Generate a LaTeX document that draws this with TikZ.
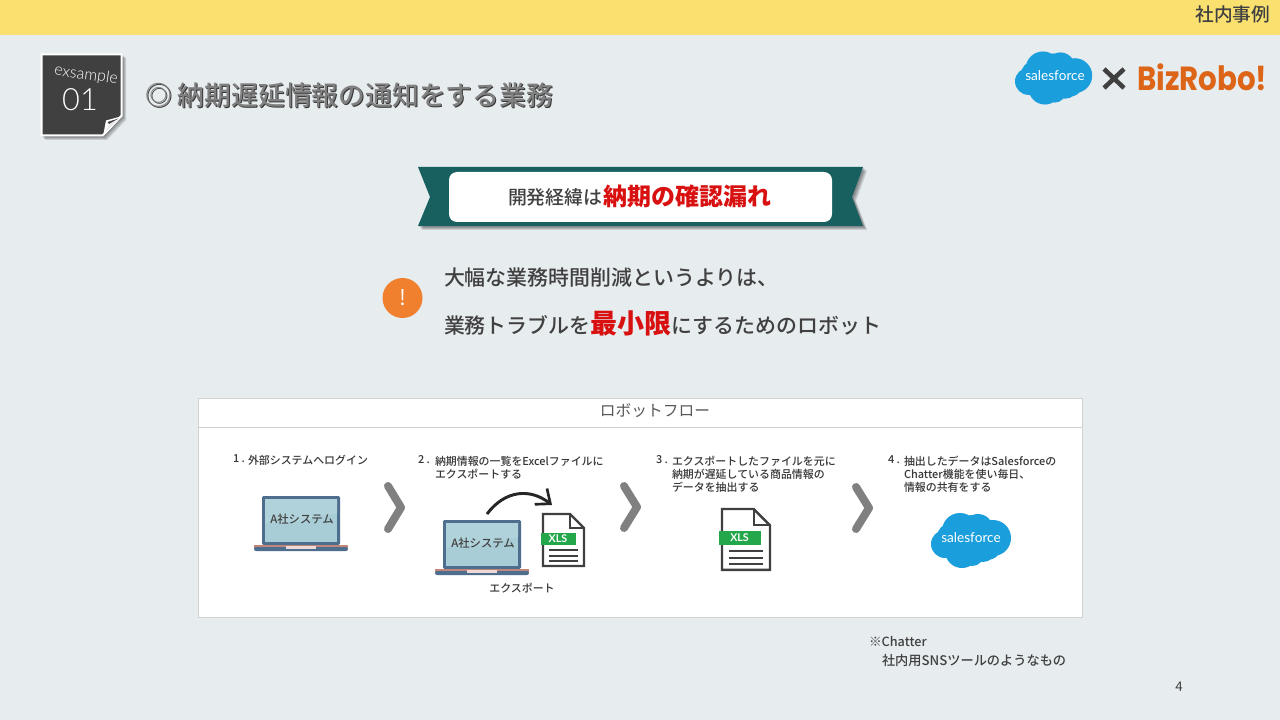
\documentclass[tikz,border=0pt]{standalone}
\usepackage{fontspec}
\setmainfont{Noto Sans CJK JP}
\newfontfamily\medfont{Noto Sans CJK JP Medium}
\newfontfamily\latofont{Lato}
\newfontfamily\latolight{Lato Light}
\newfontfamily\popfont{Poppins}
\usetikzlibrary{arrows.meta}
\definecolor{bgc}{HTML}{E7ECEF}
\definecolor{barc}{HTML}{F9E06F}
\definecolor{ink}{HTML}{404040}
\definecolor{teal}{HTML}{17605F}
\definecolor{redc}{HTML}{D81010}
\definecolor{sfblue}{HTML}{1B9FDC}
\definecolor{brorange}{HTML}{DD6518}
\definecolor{xlsgreen}{HTML}{22A84A}
\definecolor{lapnavy}{HTML}{4E6E8E}
\definecolor{lapscreen}{HTML}{A9CDD6}
\definecolor{lapscreenb}{HTML}{B0D2DA}
\definecolor{lappink}{HTML}{C2857C}
\definecolor{warnc}{HTML}{F07F2E}
\newcommand{\fs}[1]{\fontsize{#1}{#1}\selectfont}
\tikzset{
  x=0.75pt,y=-0.75pt,
  txt/.style={inner sep=0pt,outer sep=0pt,text=ink},
  steptext/.style={txt,anchor=north west,align=left,font=\medfont\fontsize{8.2}{9.7}\selectfont,text=ink!85!black},
  chevron/.style={draw=black!50,line width=6pt,line cap=round,line join=round},
  soft/.style={fill=black,opacity=0.13},
  laptop/.pic={
    \fill[lapnavy,rounded corners=1pt] (0,0) rectangle (78,49);
    \fill[lapscreen] (3,3) rectangle (75,46);
    \fill[lapscreenb] (3,3) -- (75,3) -- (75,17) -- (30,27) -- (3,27) -- cycle;
    \fill[lappink] (-8,48.5) -- (86,48.5) -- (86,52) -- (-8,52) -- cycle;
    \fill[lapnavy,rounded corners=1.5pt] (-8,51) rectangle (86,55);
    \fill[white!70!lappink] (24,50) rectangle (54,52.8);
  },
  xlsicon/.pic={
    \draw[draw=black!75,line width=1.8pt,line join=miter,fill=white] (0,0) -- (27,0) -- (41,14) -- (41,52) -- (0,52) -- cycle;
    \draw[draw=black!75,line width=1.5pt] (27,0) -- (27,14) -- (41,14);
    \fill[xlsgreen] (-2.5,18.5) rectangle (33,31);
    \node[font=\latofont\bfseries\fs{8},text=white,inner sep=0pt] at (15,24.8) {XLS};
    \foreach \yy in {36,42,47}{\draw[black!75,line width=1.1pt] (6,\yy) -- (35,\yy);}
  },
  cloudicon/.pic={
    \fill[sfblue] (29,19) circle (18) (47,17) circle (15) (62,26) circle (18)
      (31,39) circle (17) (14,32) circle (14) (52,37) circle (13) (40,28) circle (18)
      (40,12) circle (9) (56,33) circle (15) (20,25) circle (14) (41,42) circle (12);
  },
}
\begin{document}
\begin{tikzpicture}
\useasboundingbox (0,0) rectangle (1280,720);
\fill[bgc] (0,0) rectangle (1280,720);
\fill[barc] (0,0) rectangle (1280,35);
\node[txt,anchor=east,font=\medfont\fs{14}] (tag) at (1270,14) {社内事例};

% badge
\foreach \dd in {1,2,3,4}{
  \fill[soft] (41+\dd,54+\dd) -- (122+\dd,54+\dd) -- (122+\dd,116+\dd) -- (103+\dd,136+\dd) -- (41+\dd,136+\dd) -- cycle;}
\fill[white] (40.5,53.5) -- (122.5,53.5) -- (122.5,116) -- (103,136.5) -- (40.5,136.5) -- cycle;
\fill[ink] (42.5,55.5) -- (120.5,55.5) -- (120.5,115) -- (102,134.5) -- (42.5,134.5) -- cycle;
\fill[white] (122.5,116) -- (106,120.5) -- (103,136.5) -- cycle;
\fill[ink] (118.5,118.5) -- (107.5,122) -- (109,124) -- cycle;
\fill[white!90!black] (118,119.5) -- (110,124) -- (105,132) -- cycle;
\node[txt,text=white,rotate=-8,font=\latolight\fs{12}] (ex) at (86,75) {exsample};
\node[txt,text=white,font=\latolight\fs{23}] (num) at (80,100) {01};

% title
\node[txt,anchor=west,text=black!78,font=\medfont\fs{20.1}] (titleS) at (146,96) {◎ 納期遅延情報の通知をする業務};
\node[txt,anchor=west,text=black!50,font=\medfont\fs{20.1}] (title) at (145,95) {◎ 納期遅延情報の通知をする業務};

% logos
\pic[scale=0.965] at (1015,50.5) {cloudicon};
\node[txt,text=white,font=\latofont\fs{10.2}] (sf1) at (1055,76) {salesforce};
\draw[ink,line width=3.4pt] (1104,69) -- (1124,88) (1124,69) -- (1104,88);
\node[txt,text=brorange,anchor=west,yscale=1.14,font=\popfont\bfseries\fs{22}] (biz) at (1137,77.5) {BizRobo!};

% ribbon
\foreach \dd in {1,2,3,4}{
  \fill[soft] (418+\dd,167+\dd) -- (863+\dd,167+\dd) -- (852+\dd,197+\dd) -- (863+\dd,226+\dd) -- (418+\dd,226+\dd) -- (430+\dd,197+\dd) -- cycle;}
\fill[teal] (418,167) -- (863,167) -- (852,197) -- (863,226) -- (418,226) -- (430,197) -- cycle;
\node[fill=white,rounded corners=6pt,minimum width=287.25pt,minimum height=37.5pt,inner sep=0pt] (rb) at (640.5,197) {};
\node[txt,anchor=west,font=\medfont\fs{14.2}] (r1) at (508,197) {開発経緯は};
\node[txt,anchor=west,text=redc,font=\bfseries\fs{18}] (r2) at (603,196) {納期の確認漏れ};

% note
\node[circle,fill=warnc,minimum size=30pt,inner sep=0pt] (warn) at (402.5,298) {};
\node[txt,text=white,font=\fs{16}] at (warn) {!};
\node[txt,anchor=west,font=\medfont\fs{15.7}] (l1) at (444,278) {大幅な業務時間削減というよりは、};
\node[txt,anchor=west,font=\medfont\fs{15.7}] (l2) at (444,323) {業務トラブルを\textcolor{redc}{\bfseries\fs{20.3}最小限}にするためのロボット};

% panel
\draw[fill=white,draw=black!18,line width=0.75pt] (198,398) rectangle (1082,617);
\draw[black!18,line width=0.75pt] (198,427) -- (1082,427);
\node[txt,text=black!65,font=\fs{11.8}] (pt) at (655,411) {ロボットフロー};

% step 1
\node[steptext] (s1n) at (233,455) {1 .};
\node[steptext] (s1) at (248,455.5) {外部システムへログイン};
\pic at (262,496) {laptop};
\node[txt,font=\medfont\fs{8.5}] (a1) at (302,519) {A社システム};
\draw[chevron] (388,486) -- (401,507.5) -- (388,529);

% step 2
\node[steptext] (s2n) at (418,456) {2 .};
\node[steptext] (s2) at (435,456) {納期情報の一覧をExcelファイルに\\エクスポートする};
\pic at (443,520) {laptop};
\node[txt,font=\medfont\fs{8.5}] (a2) at (483,543.5) {A社システム};
\pic at (543,514) {xlsicon};
\coordinate (ca) at (487,514);
\coordinate (cb) at (552,505);
\draw[-{Straight Barb[length=9pt,width=15pt,line width=2pt]},black!85,line width=2.2pt] (ca) .. controls (505,490) and (530,488) .. (cb);
\node[steptext,anchor=center] (ex2) at (522,588) {エクスポート};
\draw[chevron] (624,486) -- (637,507) -- (624,528);

% step 3
\node[steptext] (s3n) at (656,456) {3 .};
\node[steptext] (s3) at (672,456) {エクスポートしたファイルを元に\\納期が遅延している商品情報の\\データを抽出する};
\pic[scale=1.17] at (722,509) {xlsicon};
\draw[chevron] (856,487) -- (869,508) -- (856,529);

% step 4
\node[steptext] (s4n) at (888,456) {4 .};
\node[steptext] (s4) at (904,456) {抽出したデータはSalesforceの\\Chatter機能を使い毎日、\\情報の共有をする};
\pic at (931,512) {cloudicon};
\node[txt,text=white,font=\latofont\fs{10.2}] (sf2) at (971,538) {salesforce};

% footnote
\node[txt,anchor=west,font=\medfont\fs{9.5}] (n1) at (869,641.5) {※Chatter};
\node[txt,anchor=west,font=\medfont\fs{9.9}] (n2) at (882,661) {社内用SNSツールのようなもの};
\node[txt,font=\fs{10}] (pg) at (1179,687) {4};
\end{tikzpicture}
\end{document}
